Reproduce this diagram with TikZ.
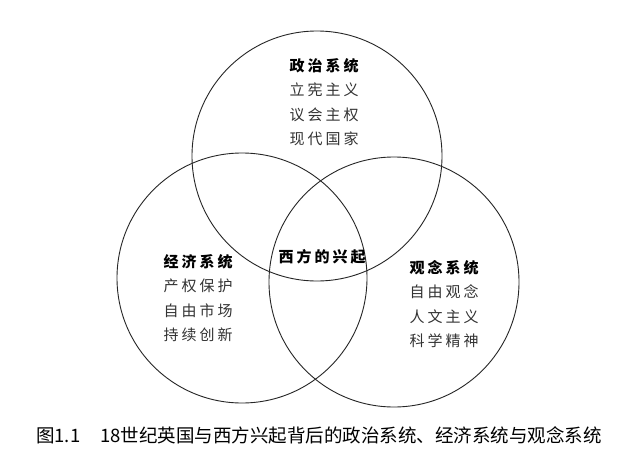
\documentclass[tikz,border=0pt]{standalone}
\usepackage{fontspec}
\newfontfamily\cjk[LetterSpace=20]{Noto Sans CJK SC}
\newfontfamily\cjkcap{Noto Sans CJK SC}
\begin{document}
\begin{tikzpicture}[x=1pt,y=-1pt,
  venn/.style={circle,draw=black!85,line width=0.9pt,minimum size=250pt,inner sep=0pt},
  items/.style={font=\cjk\fontsize{15}{24.5}\selectfont,text=black!80,align=center,inner sep=0pt},
  core/.style={font=\cjk\bfseries\fontsize{15}{18}\selectfont,text=black,inner sep=0pt}]
\useasboundingbox[fill=white] (0,0) rectangle (637,472);
\node[venn] (top) at (317,156) {};
\node[venn] (left) at (242,278) {};
\node[venn] (right) at (394,282) {};
\node[items] (ttext) at (324,102) {{\bfseries\color{black}政治系统}\\立宪主义\\议会主权\\现代国家};
\node[items] (ltext) at (198,298) {{\bfseries\color{black}经济系统}\\产权保护\\自由市场\\持续创新};
\node[items] (rtext) at (444,304) {{\bfseries\color{black}观念系统}\\自由观念\\人文主义\\科学精神};
\node[core] (center) at (322,257) {西方的兴起};
\node[font=\cjkcap\fontsize{18.5}{22}\selectfont,inner sep=0pt] (cap) at (319,435) {图1.1\hspace{20pt}18世纪英国与西方兴起背后的政治系统、经济系统与观念系统};
\end{tikzpicture}
\end{document}
